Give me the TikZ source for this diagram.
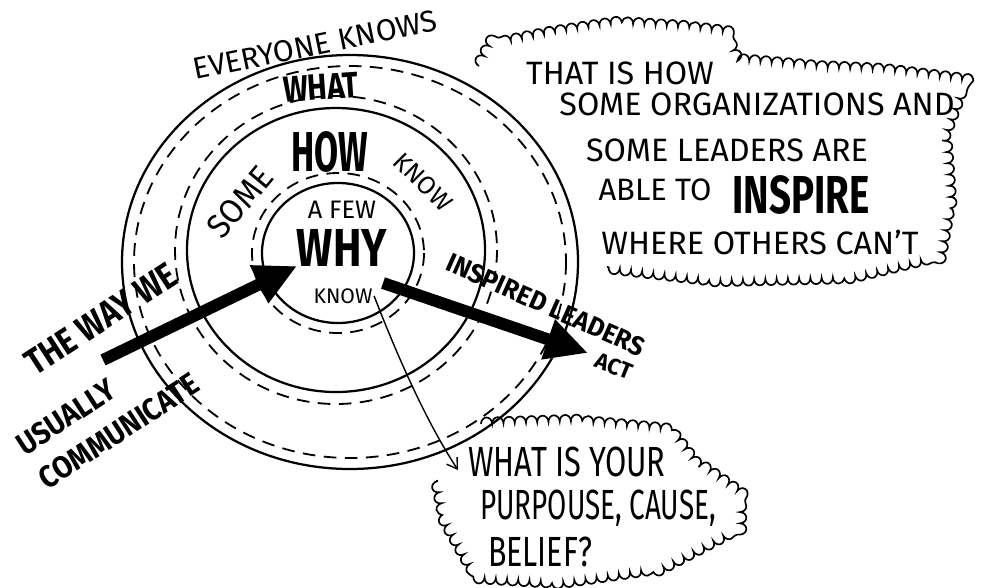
\documentclass[tikz,border=0pt]{standalone}
\usepackage{fontspec}
\setmainfont{Fira Sans}
\usepackage{tikz}
\usetikzlibrary{arrows.meta,decorations.pathmorphing}
\newcommand{\hw}[3]{\scalebox{#2}[1]{\fontsize{#1}{#1}\selectfont #3}}

\begin{document}
\begin{tikzpicture}[x=0.025cm, y=-0.025cm]
	\tikzstyle{Ring}	= [line width=1.6pt]
	\tikzstyle{RingDash}	= [line width=1.3pt, dash pattern=on 9pt off 6pt]
	\tikzstyle{Word}	= [inner sep=1pt, text=black]
	\tikzstyle{Big}		= [Word, font=\bfseries]
	\tikzstyle{Cloud}	= [line width=1.2pt, decorate, decoration={bumps, segment length=16pt, amplitude=4.5pt}]
	\tikzstyle{Fat}		= [line width=8.5pt, -{Triangle[length=30pt, width=28pt]}]
	\tikzstyle{Thin}	= [line width=1pt, -{Straight Barb[length=7pt, width=9pt]}]

	\useasboundingbox (0,0) rectangle (984,587);

	\coordinate (outerC) at (350,262);
	\coordinate (midC) at (336,250);
	\coordinate (innerC) at (338,253);

	\draw [Ring] (outerC) ellipse [x radius=228, y radius=207];
	\draw [RingDash] (outerC) ellipse [x radius=216, y radius=196];
	\draw [RingDash] (midC) ellipse [x radius=161, y radius=154];
	\draw [Ring] (midC) ellipse [x radius=149, y radius=142];
	\draw [RingDash] (innerC) ellipse [x radius=86, y radius=80];
	\draw [Ring] (innerC) ellipse [x radius=76, y radius=70];

	\node (everyone) at (315,45) [Word, rotate=11.5] {\hw{21.5}{1}{EVERYONE KNOWS}};
	\node (what) at (321,87) [Big, rotate=4] {\hw{26}{0.8}{WHAT}};
	\node (some) at (240,202) [Word, rotate=50] {\hw{24}{0.95}{SOME}};
	\node (how) at (330,152) [Big] {\hw{40}{0.62}{HOW}};
	\node (knowOut) at (423,182) [Word, rotate=-45] {\hw{18}{1}{KNOW}};
	\node (few) at (342,210) [Word] {\hw{18}{1}{A FEW}};
	\node (why) at (342,248) [Big] {\hw{38}{0.8}{WHY}};
	\node (knowIn) at (343,296) [Word] {\hw{15}{1}{KNOW}};

	\node (way) at (101,319) [Big, rotate=33] {\hw{26}{0.85}{THE WAY WE}};
	\node (usually) at (66,417) [Big, rotate=33] {\hw{22}{0.9}{USUALLY}};
	\node (communicate) at (119,431) [Big, rotate=33] {\hw{22}{0.9}{COMMUNICATE}};
	\node (inspired) at (546,305) [Big, rotate=-24] {\hw{19}{0.95}{INSPIRED LEADERS}};
	\node (act) at (614,366) [Big, rotate=-22] {\hw{16}{1}{ACT}};

	\node (that) at (620,73) [Word] {\hw{23}{1}{THAT IS HOW}};
	\node (orgs) at (757,104) [Word] {\hw{23}{1}{SOME ORGANIZATIONS AND}};
	\node (leaders) at (727,150) [Word] {\hw{23}{1}{SOME LEADERS ARE}};
	\node (able) at (655,190) [Word] {\hw{22}{1}{ABLE TO}};
	\node (inspire) at (801,195) [Big] {\hw{38}{0.72}{INSPIRE}};
	\node (others) at (760,243) [Word] {\hw{23}{1}{WHERE OTHERS CAN'T}};

	\node (ask) at (567,462) [Word] {\hw{30}{0.73}{WHAT IS YOUR}};
	\node (purpose) at (598,508) [Word] {\hw{30}{0.66}{PURPOUSE, CAUSE,}};
	\node (belief) at (540,552) [Word] {\hw{30}{0.72}{BELIEF?}};

	\draw [Cloud] (479,66) -- (490,45) -- (550,33) -- (617,23) -- (683,27) -- (725,32) -- (737,60) -- (817,67) -- (883,70) -- (965,80) -- (945,133) -- (950,200) -- (940,255) -- (850,277) -- (717,280) -- (607,267);
	\draw [Cloud] (481,424) -- (573,421) -- (670,430) -- (693,460) -- (740,493) -- (740,527) -- (663,567) -- (560,582) -- (477,577) -- (445,520) -- (437,480);

	\coordinate (wayTail) at (103,360);
	\coordinate (wayTip) at (297,266);
	\coordinate (actTail) at (383,283);
	\coordinate (actTip) at (588,353);
	\coordinate (askTip) at (458,470);

	\draw [Fat] (wayTail) to (wayTip);
	\draw [Fat] (actTail) to (actTip);
	\draw [Thin] (knowIn.east) .. controls (395,350) and (425,420) .. (askTip);
\end{tikzpicture}
\end{document}
